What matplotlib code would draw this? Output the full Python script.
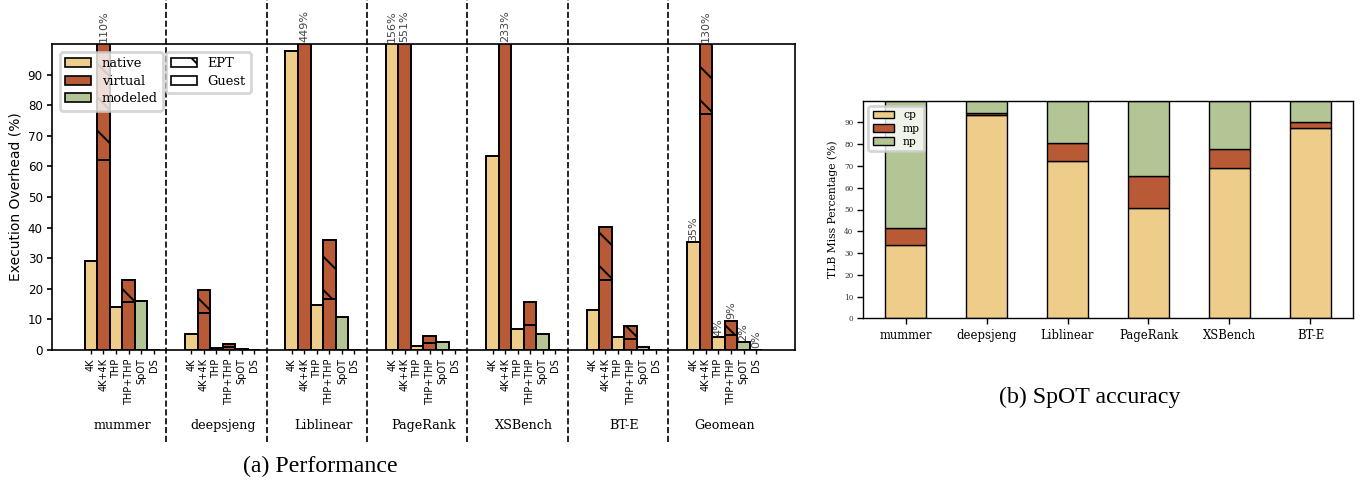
import numpy as np
import matplotlib
matplotlib.use('Agg')
import matplotlib.pyplot as plt
from matplotlib.patches import Patch

plt.rcParams['hatch.linewidth'] = 0.7

groups = ['mummer', 'deepsjeng', 'Liblinear', 'PageRank', 'XSBench', 'BT-E', 'Geomean']
configs = ['4K', '4K+4K', 'THP', 'THP+THP', 'SpOT', 'DS']

native_4k = [29.0, 5.3, 97.7, 156, 63.3, 13.0, 35.2]
virt_4k_guest = [62.1, 12.1, 300, 400, 150, 23.0, 77.1]
virt_4k_total = [110, 19.6, 449, 551, 233, 40.3, 130]
native_thp = [13.9, 0.65, 14.6, 1.3, 7.0, 4.1, 4.1]
virt_thp_guest = [15.7, 1.0, 16.7, 2.4, 8.2, 3.6, 5.0]
virt_thp_total = [22.9, 1.85, 35.8, 4.7, 15.6, 7.8, 9.6]
spot = [15.9, 0.2, 10.7, 2.5, 5.2, 1.1, 2.6]
ds = [0.1, 0.1, 0.1, 0.1, 0.1, 0.1, 0.0]

# SpOT accuracy (right panel)
acc_bench = ['mummer', 'deepsjeng', 'Liblinear', 'PageRank', 'XSBench', 'BT-E']
cp = [33.6, 93.6, 72.5, 50.8, 69.3, 87.6]
mp = [8.0, 0.9, 8.2, 14.8, 8.5, 2.6]
np_ = [58.4, 5.5, 19.3, 34.4, 22.2, 9.8]

c_native = '#eecd8a'
c_virtual = '#b95a36'
c_model = '#b4c595'
ept_hatch = '\\\\'

fig = plt.figure(figsize=(1369 / 200, 483 / 200), dpi=200)
ax = fig.add_axes([52 / 1369, 133 / 483, 743 / 1369, 306 / 483])

ekw = dict(width=1, edgecolor='black', linewidth=0.7)
ticks, ticklabels = [], []
for g, name in enumerate(groups):
    x0 = g * 8
    xs = x0 + np.arange(6)
    ax.bar(xs[0], native_4k[g], color=c_native, **ekw)
    ax.bar(xs[1], virt_4k_guest[g], color=c_virtual, **ekw)
    ax.bar(xs[1], virt_4k_total[g] - virt_4k_guest[g], bottom=virt_4k_guest[g],
           color=c_virtual, hatch=ept_hatch, **ekw)
    ax.bar(xs[2], native_thp[g], color=c_native, **ekw)
    ax.bar(xs[3], virt_thp_guest[g], color=c_virtual, **ekw)
    ax.bar(xs[3], virt_thp_total[g] - virt_thp_guest[g], bottom=virt_thp_guest[g],
           color=c_virtual, hatch=ept_hatch, **ekw)
    ax.bar(xs[4], spot[g], color=c_model, **ekw)
    ax.bar(xs[5], ds[g], color=c_model, **ekw)

    vals = [native_4k[g], virt_4k_total[g], native_thp[g], virt_thp_total[g], spot[g], ds[g]]
    for x, v in zip(xs, vals):
        if v > 100 or name == 'Geomean':
            ax.text(x, min(v, 100) + 0.5, '%d%%' % int(v), rotation=90, ha='center',
                    va='bottom', fontsize=4, color='#444444', clip_on=False)
    ticks += list(xs)
    ticklabels += configs
    ax.text(x0 + 2.5, -0.248, name, transform=ax.get_xaxis_transform(), ha='center',
            va='center', fontsize=4.6, family='DejaVu Serif')
    if g < len(groups) - 1:
        ax.axvline(x0 + 6, ymin=-0.3, ymax=1.15, color='black', linestyle='--',
                   linewidth=0.6, clip_on=False)

ax.set_xlim(-3.1, 56.1)
ax.set_ylim(0, 100)
ax.set_yticks(np.arange(0, 100, 10))
ax.set_xticks(ticks)
ax.set_xticklabels(ticklabels, rotation=90, fontsize=3.5)
ax.tick_params(axis='y', labelsize=4.3, length=1.9, width=0.6, pad=1.4)
ax.tick_params(axis='x', length=1.5, width=0.5, pad=1.5)
ax.set_ylabel('Execution Overhead (%)', fontsize=5.0, labelpad=2)
for s in ax.spines.values():
    s.set_linewidth(0.6)

lkw = dict(edgecolor='black', linewidth=0.6)
leg1 = ax.legend(handles=[Patch(facecolor=c_native, label='native', **lkw),
                          Patch(facecolor=c_virtual, label='virtual', **lkw),
                          Patch(facecolor=c_model, label='modeled', **lkw)],
                 loc='upper left', bbox_to_anchor=(0.002, 0.995),
                 prop={'family': 'DejaVu Serif', 'size': 4.7}, framealpha=0.8,
                 borderpad=0.4, labelspacing=0.35, handletextpad=0.8)
ax.add_artist(leg1)
ax.legend(handles=[Patch(facecolor='white', hatch=ept_hatch, label='EPT', **lkw),
                   Patch(facecolor='white', label='Guest', **lkw)],
          loc='upper left', bbox_to_anchor=(0.144, 0.995),
          prop={'family': 'DejaVu Serif', 'size': 4.7}, framealpha=0.8,
          borderpad=0.4, labelspacing=0.35, handletextpad=0.8)

# right panel
ax2 = fig.add_axes([863 / 1369, 164.7 / 483, 490 / 1369, 217.6 / 483])
xb = np.arange(len(acc_bench))
bkw = dict(width=0.5, edgecolor='black', linewidth=0.5)
ax2.bar(xb, cp, color=c_native, label='cp', **bkw)
ax2.bar(xb, mp, bottom=cp, color=c_virtual, label='mp', **bkw)
ax2.bar(xb, np_, bottom=np.array(cp) + np.array(mp), color=c_model, label='np', **bkw)
ax2.set_ylim(0, 100)
ax2.set_yticks(np.arange(0, 100, 10))
ax2.set_xticks(xb)
ax2.set_xticklabels(acc_bench, family='DejaVu Serif', fontsize=4.2)
for lab in ax2.get_yticklabels():
    lab.set_family('DejaVu Serif')
ax2.tick_params(axis='y', labelsize=2.6, length=2, width=0.5, pad=1.5, labelcolor='#333333')
ax2.tick_params(axis='x', length=2, width=0.5, pad=2)
ax2.set_ylabel('TLB Miss Percentage (%)', family='DejaVu Serif', fontsize=3.9, labelpad=2)
for s in ax2.spines.values():
    s.set_linewidth(0.5)
ax2.legend(loc='upper left', prop={'family': 'DejaVu Serif', 'size': 3.9},
           framealpha=0.8, borderpad=0.4, labelspacing=0.3, handletextpad=0.8)

fig.text(320 / 1369, 1 - 466 / 483, '(a) Performance', ha='center', va='center',
         family='Liberation Serif', fontsize=8.6)
fig.text(1090 / 1369, 1 - 397 / 483, '(b) SpOT accuracy', ha='center', va='center',
         family='Liberation Serif', fontsize=8.6)

fig.savefig('out.png', dpi=200)
